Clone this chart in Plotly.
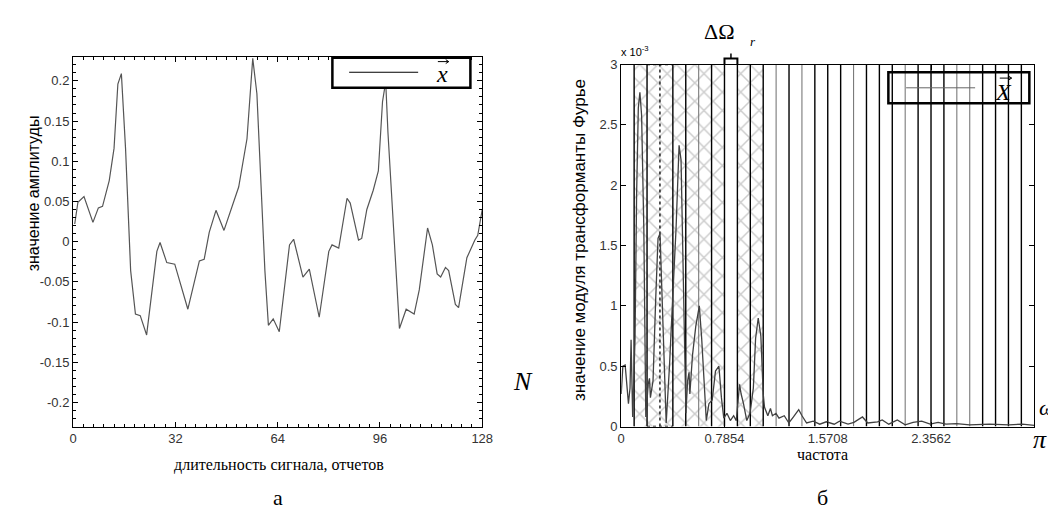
import plotly.graph_objects as go
import math

# ---------------- data ----------------
# (a) time signal
sig_n = [0.5, 1.5, 3.4, 6.2, 7.9, 9.2, 11.3, 12.8, 14, 15.1, 16.4, 18, 19.5, 21, 23, 26.2, 27.2,
         29.3, 31.8, 35.9, 39.5, 41, 42.6, 44.7, 47.2, 48.8, 51.8, 54.4, 56.2, 57.5, 60, 61.1,
         62.6, 64.5, 67.7, 69, 71.9, 73.9, 77, 80, 81, 83.1, 85.7, 86.7, 89.3, 90.3, 91.9,
         93.9, 95.5, 96.8, 97.8, 98.5, 100.6, 102.1, 104.2, 106.7, 108.3, 110.9, 112.4, 113.9,
         115, 116.5, 117.5, 119.6, 120.6, 123.2, 125.7, 126.6, 128]
sig_v = [0.022, 0.049, 0.056, 0.024, 0.042, 0.044, 0.076, 0.116, 0.196, 0.209, 0.116, -0.036,
         -0.09, -0.092, -0.116, -0.012, -0.001, -0.026, -0.028, -0.084, -0.024, -0.022, 0.012,
         0.039, 0.014, 0.032, 0.068, 0.128, 0.228, 0.184, -0.036, -0.104, -0.096, -0.112,
         -0.004, 0.003, -0.044, -0.034, -0.094, -0.012, -0.004, -0.008, 0.054, 0.048, 0.002,
         0.004, 0.04, 0.064, 0.088, 0.174, 0.199, 0.136, -0.004, -0.108, -0.084, -0.09, -0.06,
         0.017, -0.004, -0.04, -0.044, -0.032, -0.036, -0.078, -0.082, -0.02, 0.002, 0.008, 0.04]
sig_xticks = [0, 32, 64, 96, 128]
sig_yticks = [-0.2, -0.15, -0.1, -0.05, 0, 0.05, 0.1, 0.15, 0.2]
sig_yticktext = ["-0.2", "-0.15", "-0.1", "-0.05", "0", "0.05", "0.1", "0.15", "0.2"]

# (b) spectrum magnitude (x 1e-3)
spec_w = [0, 0.0125, 0.03, 0.055, 0.067, 0.075, 0.087, 0.105, 0.117, 0.13, 0.142, 0.155, 0.172,
          0.187, 0.205, 0.215, 0.222, 0.242, 0.262, 0.28, 0.295, 0.312, 0.33, 0.342, 0.367,
          0.374, 0.392, 0.417, 0.44, 0.455, 0.467, 0.48, 0.492, 0.505, 0.516, 0.522, 0.542,
          0.567, 0.594, 0.612, 0.63, 0.647, 0.667, 0.692, 0.717, 0.743, 0.762, 0.78, 0.804,
          0.83, 0.855, 0.875, 0.9, 0.912, 0.93, 0.955, 0.98, 1.005, 1.022, 1.042, 1.062, 1.08,
          1.09, 1.115, 1.135, 1.15, 1.177, 1.2, 1.24, 1.275, 1.31, 1.35, 1.375, 1.41, 1.46,
          1.51, 1.56, 1.62, 1.66, 1.725, 1.77, 1.835, 1.875, 1.95, 1.985, 2.035, 2.1, 2.16,
          2.22, 2.285, 2.35, 2.41, 2.47, 2.55, 2.65, 2.8, 2.95, 3.05, 3.1416]
spec_v = [0.27, 0.5, 0.51, 0.19, 0.32, 0.72, 0.08, 0.73, 1.92, 2.64, 2.77, 2.58, 1.64,
          0.08, 0.35, 0.4, 0.24, 0.38, 1.05, 1.56, 1.6, 1.0, 0.32, 0.03, 0.5,
          0.7, 1.08, 1.64, 2.33, 2.21, 1.53, 0.73, 0.11, 0.38, 0.45, 0.27, 0.59,
          0.83, 1.0, 0.73, 0.32, 0.05, 0.19, 0.22, 0.46, 0.5, 0.24, 0.07, 0.11,
          0.05, 0.09, 0.05, 0.35, 0.27, 0.19, 0.05, 0.11, 0.32, 0.73, 0.9, 0.75, 0.27,
          0.16, 0.09, 0.15, 0.09, 0.11, 0.07, 0.09, 0.03, 0.08, 0.14, 0.09, 0.03, 0.045,
          0.02, 0.04, 0.02, 0.045, 0.02, 0.035, 0.08, 0.03, 0.04, 0.055, 0.02, 0.055, 0.015,
          0.035, 0.045, 0.02, 0.035, 0.02, 0.025, 0.015, 0.02, 0.015, 0.02, 0.01]
n_bands = 32
hatched_bands = [1, 2, 3, 4, 5, 6, 7, 9, 10]
gray_lines = [6, 12, 14, 18, 22, 26, 27]
dotted_lines = [3]
spec_xticks = [0, 0.7854, 1.5708, 2.3562]
spec_xticktext = ["0", "0.7854", "1.5708", "2.3562"]
spec_yticks = [0, 0.5, 1, 1.5, 2, 2.5, 3]
spec_yticktext = ["0", "0.5", "1", "1.5", "2", "2.5", "3"]

# ---------------- layout helpers ----------------
W, H = 1056, 513
def px(x):
    return x / W
def py(y):
    return 1 - y / H

band_w = math.pi / n_bands
SANS = "Liberation Sans Narrow, Liberation Sans, Arial"
SERIF = "Liberation Serif, Times New Roman"

fig = go.Figure()

fig.add_trace(go.Scatter(x=sig_n, y=sig_v, mode="lines", xaxis="x", yaxis="y",
                         line=dict(color="#555555", width=1.2), showlegend=False))

fig.add_trace(go.Bar(x=[(k + 0.5) * band_w for k in hatched_bands], y=[3] * len(hatched_bands),
                     width=[band_w] * len(hatched_bands), xaxis="x2", yaxis="y2",
                     marker=dict(color="white", line=dict(width=0),
                                 pattern=dict(shape="x", fgcolor="#9a9a9a", bgcolor="white",
                                              size=13, solidity=0.22)),
                     showlegend=False))

# band boundary lines as traces (below the spectrum curve)
def band_lines(ks):
    xs, ys = [], []
    for k in ks:
        xs += [k * band_w, k * band_w, None]
        ys += [0, 3, None]
    return xs, ys

black_k = [k for k in range(1, n_bands) if k not in gray_lines and k not in dotted_lines]
for ks, ln in ((black_k, dict(color="black", width=1.4)),
               (gray_lines, dict(color="#7a7a7a", width=1.1)),
               (dotted_lines, dict(color="black", width=1.3, dash="dot"))):
    xs, ys = band_lines(ks)
    fig.add_trace(go.Scatter(x=xs, y=ys, mode="lines", xaxis="x2", yaxis="y2", line=ln,
                             showlegend=False, cliponaxis=False))
# dotted box edges between bands 2..4
fig.add_trace(go.Scatter(x=[2 * band_w, 4 * band_w, None, 2 * band_w, 4 * band_w],
                         y=[0, 0, None, 3, 3], mode="lines", xaxis="x2", yaxis="y2",
                         line=dict(color="black", width=1.6, dash="dot"), showlegend=False,
                         cliponaxis=False))

fig.add_trace(go.Scatter(x=spec_w, y=spec_v, mode="lines", xaxis="x2", yaxis="y2",
                         line=dict(color="#404040", width=1.3), showlegend=False))

shapes = []
# delta-omega bracket on band 8
b0, b1 = 8 * band_w, 9 * band_w
top = py(51)
shapes.append(dict(type="path", xref="x2", yref="paper",
                   path=f"M {b0},{top} L {b0},{top + 0.012} L {b1},{top + 0.012} L {b1},{top}",
                   line=dict(color="black", width=2)))
shapes.append(dict(type="line", xref="x2", yref="paper", x0=(b0 + b1) / 2, x1=(b0 + b1) / 2,
                   y0=top + 0.012, y1=top + 0.022, line=dict(color="black", width=1.5)))

# legends (drawn)
shapes.append(dict(type="rect", xref="paper", yref="paper", x0=px(325), x1=px(465), y0=py(75),
                   y1=py(44), line=dict(color="black", width=2.5), fillcolor="white", layer="above"))
shapes.append(dict(type="line", xref="paper", yref="paper", x0=px(342), x1=px(412), y0=py(59),
                   y1=py(59), line=dict(color="black", width=1.2), layer="above"))
shapes.append(dict(type="rect", xref="paper", yref="paper", x0=px(889), x1=px(1032), y0=py(91),
                   y1=py(59), line=dict(color="black", width=2.5), layer="above"))
shapes.append(dict(type="line", xref="paper", yref="paper", x0=px(907), x1=px(977), y0=py(75),
                   y1=py(75), line=dict(color="#666666", width=1), layer="above"))
# vector arrows over legend symbols
for (ax0, ax1, ay) in ((432, 443, 48), (1002, 1014, 65)):
    shapes.append(dict(type="line", xref="paper", yref="paper", x0=px(ax0), x1=px(ax1),
                       y0=py(ay), y1=py(ay), line=dict(color="black", width=1), layer="above"))
    shapes.append(dict(type="path", xref="paper", yref="paper",
                       path=f"M {px(ax1 - 3)},{py(ay - 2)} L {px(ax1)},{py(ay)} L {px(ax1 - 3)},{py(ay + 2)}",
                       line=dict(color="black", width=1), layer="above"))

def ann(text, x, y, size, family=SERIF, xanchor="center", yanchor="middle", angle=0, color="black"):
    return dict(text=text, x=px(x), y=py(y), xref="paper", yref="paper", showarrow=False,
                xanchor=xanchor, yanchor=yanchor, textangle=angle,
                font=dict(family=family, size=size, color=color))

annotations = [
    ann("<i>x</i>", 436, 61, 24),
    ann("<i>X</i>", 1006, 79, 24),
    ann("значение амплитуды", 22, 184, 16, family=SANS, angle=-90),
    ann("длительность сигнала, отчетов", 271, 464, 16),
    ann("значение модуля трансформанты Фурье", 575, 232, 17, family=SANS, angle=-90),
    ann("частота", 822, 453, 16),
    ann("<i>N</i>", 518, 378, 26),
    ann("<i>π</i>", 1043, 437, 26),
    ann("<i>ω</i>", 1040, 404, 22, xanchor="left"),
    ann("x 10<sup>-3</sup>", 632, 37, 11, family=SANS),
    ann("ΔΩ", 718, 17, 22),
    ann("<i>r</i>", 752, 27, 13),
    ann("а", 270, 497, 22),
    ann("б", 822, 497, 22),
]

axis_common = dict(showgrid=False, zeroline=False, showline=True, linecolor="black",
                   linewidth=1.2, mirror="allticks", ticks="inside", ticklen=5,
                   tickcolor="black", tickfont=dict(family=SANS, size=13, color="#333333"))

fig.update_layout(
    width=W, height=H, margin=dict(l=0, r=0, t=0, b=0),
    paper_bgcolor="white", plot_bgcolor="white", showlegend=False, bargap=0,
    xaxis=dict(domain=[px(62), px(477)], range=[0, 128], tickvals=sig_xticks,
               minor=dict(dtick=3.2, tick0=0, ticks="inside", ticklen=3, tickcolor="black"),
               anchor="y", **axis_common),
    yaxis=dict(domain=[py(424), py(43)], range=[-0.23, 0.23], tickvals=sig_yticks,
               ticktext=sig_yticktext,
               minor=dict(dtick=0.01, tick0=0, ticks="inside", ticklen=3, tickcolor="black"),
               anchor="x", **axis_common),
    xaxis2=dict(domain=[px(618), px(1037)], range=[0, math.pi], tickvals=spec_xticks,
                ticktext=spec_xticktext, anchor="y2", **axis_common),
    yaxis2=dict(domain=[py(424), py(51)], range=[0, 3], tickvals=spec_yticks,
                ticktext=spec_yticktext, anchor="x2", **axis_common),
    shapes=shapes, annotations=annotations,
)

fig.write_html("out.html")
